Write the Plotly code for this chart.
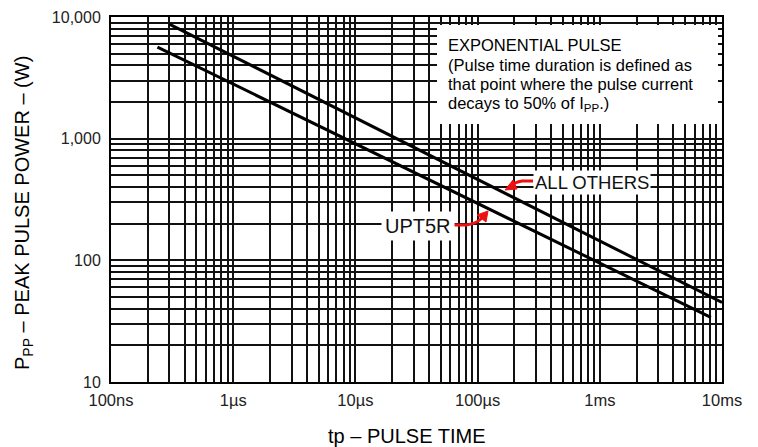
import plotly.graph_objects as go

# ---- data ----
t_all_others = [3.0e-7, 1.0e-2]
p_all_others = [8750, 45]
t_upt5r = [2.4e-7, 8.1e-3]
p_upt5r = [5660, 34]

x_tickvals = [1e-7, 1e-6, 1e-5, 1e-4, 1e-3, 1e-2]
x_ticktext = ["100ns", "1µs", "10µs", "100µs", "1ms", "10ms"]
y_tickvals = [10, 100, 1000, 10000]
y_ticktext = ["10", "100", "1,000", "10,000"]

# ---- layout geometry (reference-page pixels) ----
OFF = 8  # default body margin of the html page
W, H = 758 - 2 * OFF, 447 - OFF
L, R, T, B = 111, 722, 17, 382          # plot area in page pixels
PW, PH = R - L, B - T


def px(x):
    return (x - L) / PW


def py(y):
    return (B - y) / PH


FONT = "Liberation Sans, Arial, sans-serif"

fig = go.Figure()
fig.add_trace(go.Scatter(x=t_all_others, y=p_all_others, mode="lines",
                         line=dict(color="black", width=3), name="ALL OTHERS",
                         showlegend=False))
fig.add_trace(go.Scatter(x=t_upt5r, y=p_upt5r, mode="lines",
                         line=dict(color="black", width=3), name="UPT5R",
                         showlegend=False))

grid = dict(showgrid=True, gridcolor="#111", gridwidth=1.8)
fig.update_xaxes(type="log", range=[-7, -2], tickvals=x_tickvals, ticktext=x_ticktext,
                 showline=True, linecolor="black", linewidth=2, mirror=True,
                 ticks="", ticklabelstandoff=2, automargin=False,
                 tickfont=dict(family=FONT, size=16.5, color="#222"),
                 minor=dict(dtick="D1", showgrid=True, gridcolor="#111", gridwidth=1.8),
                 **grid)
fig.update_yaxes(type="log", range=[1, 4], tickvals=y_tickvals, ticktext=y_ticktext,
                 showline=True, linecolor="black", linewidth=2, mirror=True,
                 ticks="", ticklabelstandoff=5, automargin=False,
                 tickfont=dict(family=FONT, size=16, color="#222"),
                 minor=dict(dtick="D1", showgrid=True, gridcolor="#111", gridwidth=1.8),
                 **grid)

shapes = []
# white box behind the explanation text
shapes.append(dict(type="rect", xref="paper", yref="paper",
                   x0=px(437), x1=px(718), y0=py(124), y1=py(25),
                   fillcolor="white", line=dict(width=0), layer="above"))


def path(points, close=False):
    s = "M " + " L ".join(f"{px(x)},{py(y)}" for x, y in points)
    return s + (" Z" if close else "")


RED = "#ee1111"
# red arrow for ALL OTHERS
shapes.append(dict(type="path", xref="paper", yref="paper",
                   path=f"M {px(533)},{py(181)} L {px(522)},{py(181)} Q {px(515)},{py(182)} {px(511)},{py(186)}",
                   line=dict(color=RED, width=3), layer="above"))
shapes.append(dict(type="path", xref="paper", yref="paper",
                   path=path([(505, 190), (513, 180), (517, 189)], close=True),
                   fillcolor=RED, line=dict(color=RED, width=1), layer="above"))
# red arrow for UPT5R
shapes.append(dict(type="path", xref="paper", yref="paper",
                   path=f"M {px(454)},{py(225)} L {px(466)},{py(225)} Q {px(476)},{py(224)} {px(482)},{py(218)}",
                   line=dict(color=RED, width=3), layer="above"))
shapes.append(dict(type="path", xref="paper", yref="paper",
                   path=path([(488, 211), (477, 215), (486, 222)], close=True),
                   fillcolor=RED, line=dict(color=RED, width=1), layer="above"))

annotations = []
box_lines = ["EXPONENTIAL PULSE",
             "(Pulse time duration is defined as",
             "that point where the pulse current",
             "decays to 50% of I<sub>PP</sub>.)"]
for txt, yc in zip(box_lines, [45, 65, 84, 104]):
    annotations.append(dict(text=txt, xref="paper", yref="paper", x=px(446), y=py(yc),
                            xanchor="left", yanchor="middle", showarrow=False,
                            font=dict(family=FONT, size=16.5, color="black")))

annotations.append(dict(text="ALL OTHERS", xref="paper", yref="paper", x=px(592), y=py(182),
                        xanchor="center", yanchor="middle", showarrow=False,
                        bgcolor="white", borderpad=1,
                        font=dict(family=FONT, size=18.5, color="#111")))
annotations.append(dict(text="UPT5R", xref="paper", yref="paper", x=px(418), y=py(226),
                        xanchor="center", yanchor="middle", showarrow=False,
                        bgcolor="white", borderpad=3,
                        font=dict(family=FONT, size=20, color="#111")))

# axis titles
annotations.append(dict(text="tp – PULSE TIME", xref="paper", yref="paper",
                        x=px(406), y=py(436), xanchor="center", yanchor="middle",
                        showarrow=False, font=dict(family=FONT, size=20, color="black")))
annotations.append(dict(text="P<sub>PP</sub> – PEAK PULSE POWER – (W)", xref="paper", yref="paper",
                        x=px(23), y=py(213), xanchor="center", yanchor="middle", textangle=-90,
                        showarrow=False, font=dict(family=FONT, size=20, color="black")))

fig.update_layout(width=W, height=H, autosize=False,
                  margin=dict(l=L - OFF, r=W - (R - OFF), t=T - OFF, b=H - (B - OFF)),
                  paper_bgcolor="white", plot_bgcolor="white",
                  shapes=shapes, annotations=annotations, showlegend=False)

fig.write_html("out.html")
